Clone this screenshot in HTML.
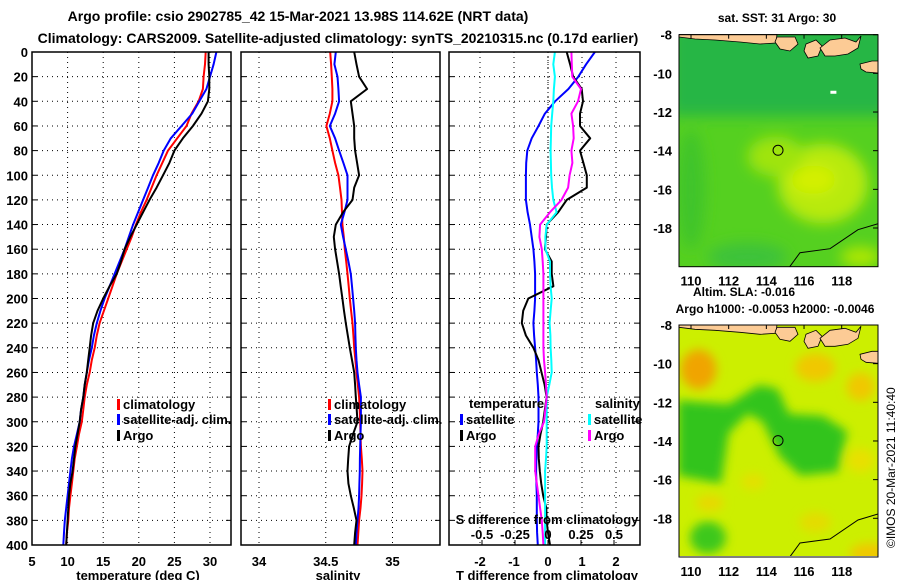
<!DOCTYPE html>
<html><head><meta charset="utf-8">
<style>
body{margin:0;background:#fff;}
svg{display:block;font-family:"Liberation Sans",Arial,sans-serif;font-weight:bold;}
</style></head>
<body>
<svg id="c" width="900" height="580" viewBox="0 0 900 580" xmlns="http://www.w3.org/2000/svg">
<defs>
<filter id="blur1" x="-20%" y="-20%" width="140%" height="140%"><feGaussianBlur stdDeviation="7"/></filter>
<filter id="blur2" x="-20%" y="-20%" width="140%" height="140%"><feGaussianBlur stdDeviation="5"/></filter>
<clipPath id="m1clip"><rect x="679" y="34" width="199" height="233"/></clipPath>
<clipPath id="m2clip"><rect x="679" y="325" width="199" height="231"/></clipPath>
</defs>
<text x="298" y="21" font-size="14" text-anchor="middle">Argo profile: csio 2902785_42 15-Mar-2021 13.98S 114.62E (NRT data)</text>
<text x="338" y="43" font-size="14" text-anchor="middle">Climatology: CARS2009. Satellite-adjusted climatology: synTS_20210315.nc (0.17d earlier)</text>
<g id="plots"></g>
<g id="maps"></g>
<text transform="translate(895,548) rotate(-90)" font-size="12" font-weight="normal">©IMOS 20-Mar-2021 11:40:40</text>
</svg>
<script>
// ---- data ----
const depths = [0,10,20,30,40,50,60,70,80,90,100,110,120,130,140,150,160,170,180,190,200,210,220,230,240,250,260,270,280,290,300,310,320,330,340,350,360,370,380,390,400];
const tempClim = [29.4,29.3,29.1,29.0,28.4,27.4,26.7,25.4,24.1,23.3,22.5,21.8,21.1,20.3,19.6,19.0,18.3,17.6,16.9,16.3,15.7,15.1,14.5,14.1,13.8,13.4,13.1,12.7,12.4,12.2,12.0,11.6,11.3,11.0,10.8,10.6,10.4,10.2,10.1,9.9,9.8];
const tempSat = [30.9,30.5,30.0,29.5,28.5,27.5,26.0,24.5,23.5,22.8,22.0,21.3,20.6,19.9,19.2,18.6,18.0,17.3,16.6,15.9,15.2,14.6,14.1,13.7,13.4,13.0,12.7,12.4,12.2,11.9,11.7,11.3,10.9,10.6,10.4,10.2,10.0,9.8,9.6,9.5,9.4];
const tempArgo = [29.8,29.8,29.9,29.9,29.7,28.8,27.6,26.2,25.0,24.3,23.4,22.5,21.5,20.6,19.7,18.8,18.0,17.5,16.9,15.9,15.0,14.2,13.6,13.3,13.1,12.9,12.7,12.4,12.2,11.9,11.7,11.4,11.1,10.9,10.7,10.4,10.2,10.1,10.0,9.9,9.8];
const salClim = [34.533,34.54,34.545,34.55,34.55,34.53,34.505,34.53,34.55,34.57,34.595,34.607,34.618,34.622,34.625,34.635,34.643,34.653,34.663,34.672,34.68,34.69,34.70,34.707,34.713,34.722,34.73,34.74,34.75,34.754,34.758,34.76,34.763,34.77,34.775,34.772,34.768,34.76,34.75,34.744,34.738];
const salSat = [34.575,34.565,34.588,34.595,34.60,34.57,34.53,34.57,34.60,34.632,34.663,34.663,34.663,34.64,34.613,34.63,34.65,34.67,34.688,34.697,34.705,34.713,34.72,34.722,34.725,34.73,34.738,34.75,34.763,34.763,34.763,34.76,34.758,34.756,34.755,34.752,34.75,34.745,34.738,34.73,34.725];
const salArgo = [34.713,34.73,34.75,34.81,34.688,34.70,34.713,34.713,34.72,34.735,34.75,34.713,34.70,34.63,34.575,34.56,34.57,34.585,34.60,34.612,34.625,34.637,34.65,34.665,34.68,34.697,34.713,34.72,34.725,34.732,34.738,34.705,34.675,34.668,34.663,34.67,34.688,34.71,34.73,34.72,34.713];
const dTempSat = [1.38,1.12,0.89,0.6,0.21,-0.09,-0.28,-0.48,-0.61,-0.64,-0.65,-0.65,-0.65,-0.6,-0.53,-0.48,-0.43,-0.4,-0.38,-0.38,-0.38,-0.4,-0.43,-0.41,-0.38,-0.35,-0.33,-0.3,-0.28,-0.28,-0.28,-0.3,-0.33,-0.34,-0.35,-0.34,-0.33,-0.33,-0.33,-0.32,-0.3];
const dTempArgo = [0.55,0.65,0.74,0.99,1.03,0.94,0.94,1.24,0.94,1.04,1.14,1.14,0.55,0.3,-0.04,-0.06,-0.09,0.11,0.11,0.16,-0.58,-0.73,-0.77,-0.65,-0.43,-0.28,-0.19,-0.1,-0.04,-0.09,-0.14,-0.22,-0.28,-0.27,-0.24,-0.2,-0.14,-0.05,-0.04,0.0,0.06];
const dSalSat = [0.052,0.04,0.052,0.045,0.04,0.032,0.024,0.022,0.02,0.022,0.024,0.03,0.04,0.065,-0.01,-0.02,-0.02,0.015,0.015,0.02,0.028,0.02,0.012,0.018,0.02,0.025,0.028,0.01,-0.01,-0.01,-0.01,-0.01,-0.01,-0.015,-0.022,-0.022,-0.022,-0.022,-0.022,-0.022,-0.022];
const dSalArgo = [0.177,0.18,0.184,0.25,0.227,0.177,0.19,0.195,0.177,0.185,0.164,0.152,0.102,0.015,-0.06,-0.065,-0.047,-0.04,-0.035,-0.035,-0.035,-0.035,-0.035,-0.035,-0.035,-0.03,-0.022,-0.015,-0.01,-0.02,-0.03,-0.07,-0.097,-0.097,-0.097,-0.085,-0.072,-0.06,-0.047,-0.04,-0.035];
const depthTicks = [0,20,40,60,80,100,120,140,160,180,200,220,240,260,280,300,320,340,360,380,400];
const tempTicks = [5,10,15,20,25,30];
const salTicks = [34,34.5,35];
const dTTicks = [-2,-1,0,1,2];
const dSTicks = [-0.5,-0.25,0,0.25,0.5];
const latTicks = [-8,-10,-12,-14,-16,-18];
const lonTicks = [110,112,114,116,118];

const NS='http://www.w3.org/2000/svg';
function mk(tag, attrs, parent, txt){const e=document.createElementNS(NS,tag);for(const k in attrs)e.setAttribute(k,attrs[k]);if(txt!==undefined)e.textContent=txt;parent.appendChild(e);return e;}
const plots=document.getElementById('plots');
const Y0=52, Y1=545;
const yD = d => Y0 + d*(Y1-Y0)/400;
function lin(d0,d1,r0,r1){return v=>r0+(v-d0)*(r1-r0)/(d1-d0);}

const panels=[
 {name:'temperature',x0:32,x1:231,sx:lin(5,30,32,210),ticks:tempTicks,fmt:v=>String(v),title:'temperature (deg C)',titleX:138},
 {name:'salinity',x0:241,x1:440,sx:lin(34,35,259,392.5),ticks:salTicks,fmt:v=>String(v),title:'salinity',titleX:338},
 {name:'difference',x0:449,x1:640,sx:lin(0,1,548,582),ticks:dTTicks,fmt:v=>String(v),title:'T difference from climatology',titleX:547}
];
panels.forEach((p,i)=>{
  const g=mk('g',{},plots);
  
  
  depthTicks.forEach(d=>{
    if(d===0||d===400)return;
    const l=mk('line',{x1:p.x0,x2:p.x1,y1:yD(d),y2:yD(d),stroke:'#000','stroke-width':1,'stroke-dasharray':'1 4'},g);
    
    
    mk('line',{x1:p.x0,x2:p.x0+5,y1:yD(d),y2:yD(d),stroke:'#000'},g);
    mk('line',{x1:p.x1,x2:p.x1-5,y1:yD(d),y2:yD(d),stroke:'#000'},g);
  });
  p.ticks.forEach(v=>{
    const x=p.sx(v);
    const l=mk('line',{x1:x,x2:x,y1:Y0,y2:Y1,stroke:'#000','stroke-width':1,'stroke-dasharray':'1 4'},g);
    
    
    const t=mk('text',{x:x,y:566,'font-size':13,'text-anchor':'middle'},g,p.fmt(v));
    
    
  });
  const at=mk('text',{x:p.titleX,y:580,'font-size':13,'text-anchor':'middle'},g,p.title);
  
  
  if(i===0){
    depthTicks.forEach(d=>{
      const t=mk('text',{x:28,y:yD(d)+5,'font-size':13,'text-anchor':'end'},g,String(d));
      
      
    });
  }
  p.g=g;
});
function series(p, vals, sx, color, name, w){
  const pts=vals.map((v,k)=>sx(v).toFixed(1)+','+yD(depths[k]).toFixed(1)).join(' ');
  const pl=mk('polyline',{points:pts,fill:'none',stroke:color,'stroke-width':w||2,'stroke-linejoin':'round'},p.g);
  
  
}
const P=panels;
series(P[0],tempClim,P[0].sx,'#f00','temp-climatology-line');
series(P[0],tempSat,P[0].sx,'#00f','temp-satellite-line');
series(P[0],tempArgo,P[0].sx,'#000','temp-argo-line');
series(P[1],salClim,P[1].sx,'#f00','sal-climatology-line');
series(P[1],salSat,P[1].sx,'#00f','sal-satellite-line');
series(P[1],salArgo,P[1].sx,'#000','sal-argo-line');
const sxS=lin(0,0.5,548,614);
mk('line',{x1:548,x2:548,y1:Y0,y2:Y1,stroke:'#000','stroke-dasharray':'1 3'},P[2].g);
series(P[2],dTempSat,P[2].sx,'#00f','dtemp-satellite-line');
series(P[2],dTempArgo,P[2].sx,'#000','dtemp-argo-line');
series(P[2],dSalSat,sxS,'#0ff','dsal-satellite-line');
series(P[2],dSalArgo,sxS,'#f0f','dsal-argo-line');
dSTicks.forEach(v=>{
  const x=sxS(v);
  const t=mk('text',{x:x,y:539,'font-size':13,'text-anchor':'middle'},P[2].g,String(v));
  
  
  mk('line',{x1:x,x2:x,y1:Y1,y2:Y1-5,stroke:'#000'},P[2].g);
});
const st=mk('text',{x:547,y:524,'font-size':13,'text-anchor':'middle'},P[2].g,'S difference from climatology');


function legend(g,x,y,color,label){
  const lg=mk('g',{},g);
  
  
  mk('rect',{x:x,y:y-10,width:3,height:11,fill:color},lg);
  mk('text',{x:x+6,y:y,'font-size':13},lg,label);
}
legend(P[0].g,117,409,'#f00','climatology');
legend(P[0].g,117,424,'#00f','satellite-adj. clim.');
legend(P[0].g,117,440,'#000','Argo');
legend(P[1].g,328,409,'#f00','climatology');
legend(P[1].g,328,424,'#00f','satellite-adj. clim.');
legend(P[1].g,328,440,'#000','Argo');
mk('text',{x:469,y:408,'font-size':13},P[2].g,'temperature');
mk('text',{x:595,y:408,'font-size':13},P[2].g,'salinity');
legend(P[2].g,460,424,'#00f','satellite');
legend(P[2].g,460,440,'#000','Argo');
legend(P[2].g,588,424,'#0ff','satellite');
legend(P[2].g,588,440,'#f0f','Argo');
panels.forEach(p=>{
  const b=mk('rect',{x:p.x0,y:Y0,width:p.x1-p.x0,height:Y1-Y0,fill:'none',stroke:'#000','stroke-width':1.5},p.g);
  
  
});

// ---- maps ----
const maps=document.getElementById('maps');
const mx = lin(110,118,691,841.7);
function drawMap(top,clipId,kind,title){
  const g=mk('g',{},maps);
  
  
  const my=lin(-8,-18,top,top+193.3);
  const c=mk('g',{'clip-path':'url(#'+clipId+')'},g);
  if(kind==='sst'){
    mk('rect',{x:679,y:top,width:199,height:233,fill:'#55d020'},c);
    const b=mk('g',{filter:'url(#blur1)'},c);
    mk('rect',{x:670,y:top-10,width:220,height:my(-12.2)-top+10,fill:'#26b645'},b);
    mk('ellipse',{cx:mx(117),cy:my(-15.7),rx:45,ry:40,fill:'#b8ea08'},b);
    mk('ellipse',{cx:mx(116.5),cy:my(-15.5),rx:22,ry:14,fill:'#d4f000'},b);
    mk('ellipse',{cx:mx(114.5),cy:my(-14.3),rx:28,ry:20,fill:'#9fe40c'},b);
    mk('ellipse',{cx:mx(110),cy:my(-16),rx:14,ry:60,fill:'#40c42a'},b);
    mk('ellipse',{cx:mx(113),cy:my(-19.5),rx:40,ry:14,fill:'#3cc23a'},b);
    mk('ellipse',{cx:mx(119),cy:my(-19.5),rx:20,ry:10,fill:'#b0e800'},b);
    mk('rect',{x:mx(117.4),y:my(-10.9),width:6,height:3,fill:'#fff'},c);
  } else {
    mk('rect',{x:679,y:top,width:199,height:233,fill:'#ccef00'},c);
    const b=mk('g',{filter:'url(#blur2)'},c);
    mk('ellipse',{cx:mx(110.4),cy:my(-10.3),rx:18,ry:20,fill:'#f0a400'},b);
    mk('ellipse',{cx:mx(116.6),cy:my(-10.2),rx:20,ry:14,fill:'#f0c800'},b);
    mk('ellipse',{cx:mx(119),cy:my(-11.2),rx:14,ry:14,fill:'#f0c800'},b);
    const poly=[[109.3,-11.9],[112,-12.1],[113.6,-11.1],[114.6,-11.3],[115.2,-12.6],[117,-12.7],[118.3,-13.5],[117.8,-15.6],[115.8,-15.8],[114.7,-14.8],[113.8,-13],[113,-12.6],[112,-13.6],[111.6,-16.2],[109.3,-15.8]];
    mk('polygon',{points:poly.map(q=>mx(q[0])+','+my(q[1])).join(' '),fill:'#30c41c'},b);
    mk('ellipse',{cx:mx(110.9),cy:my(-19),rx:18,ry:16,fill:'#3cc81a'},b);
    mk('ellipse',{cx:mx(111),cy:my(-17.2),rx:14,ry:8,fill:'#e8d800'},b);
    mk('ellipse',{cx:mx(113.3),cy:my(-16.1),rx:12,ry:8,fill:'#e4e000'},b);
    mk('ellipse',{cx:mx(116.6),cy:my(-18.2),rx:16,ry:10,fill:'#e4dc00'},b);
    mk('ellipse',{cx:mx(119.5),cy:my(-19.8),rx:20,ry:10,fill:'#f0c800'},b);
    mk('ellipse',{cx:mx(119),cy:my(-15),rx:14,ry:12,fill:'#e8e000'},b);
  }
  const land=mk('g',{fill:'#fccb95',stroke:'#000','stroke-width':0.8},c);
  
  
  const t=top-0.7;
  mk('path',{d:`M679 ${t} L777 ${t} L776 ${t+9} L760 ${t+10} L740 ${t+8} L715 ${t+6} L695 ${t+5} L679 ${t+3} Z`},land);
  mk('path',{d:`M777 ${t+3} L795 ${t+3} L798 ${t+10} L790 ${t+17} L780 ${t+15} L775 ${t+8} Z`},land);
  mk('path',{d:`M806 ${t+10} L816 ${t+6} L822 ${t+12} L818 ${t+22} L808 ${t+24} L804 ${t+17} Z`},land);
  mk('path',{d:`M820 ${t+14} L830 ${t+6} L845 ${t+4} L856 ${t+8} L861 ${t+2} L858 ${t+14} L848 ${t+20} L835 ${t+22} L825 ${t+22} Z`},land);
  mk('path',{d:`M860 ${t+30} L872 ${t+27} L878 ${t+27} L878 ${t+39} L866 ${t+38} L861 ${t+35} Z`},land);
  mk('path',{d:`M789 ${top+233} L800 ${top+218} L830 ${top+214} L858 ${top+195} L878 ${top+189}`,fill:'none',stroke:'#000','stroke-width':1},c);
  const ap=mk('circle',{cx:mx(114.62),cy:my(-13.98),r:5,fill:'none',stroke:'#000','stroke-width':1},g);
  
  
  mk('rect',{x:679,y:top,width:199,height:232,fill:'none',stroke:'#000','stroke-width':1},g);
  latTicks.forEach(v=>{
    const tx=mk('text',{x:672,y:my(v)+5,'font-size':13,'text-anchor':'end'},g,String(v));
    
    
    mk('line',{x1:878,x2:873,y1:my(v),y2:my(v),stroke:'#000'},g);
  });
  lonTicks.forEach(v=>{
    const tx=mk('text',{x:mx(v),y:top+251,'font-size':13,'text-anchor':'middle'},g,String(v));
    
    
    mk('line',{x1:mx(v),x2:mx(v),y1:top,y2:top+4,stroke:'#000'},g);
  });
  title.forEach(s=>{
    const tx=mk('text',{x:s[1],y:s[2],'font-size':12,'text-anchor':'middle'},g,s[0]);
    
    
  });
}
drawMap(34.7,'m1clip','sst',[['sat. SST: 31 Argo: 30',777,22]]);
drawMap(325,'m2clip','sla',[['Altim. SLA: -0.016',744,296],['Argo h1000: -0.0053 h2000: -0.0046',775,313]]);
</script>
</body></html>
